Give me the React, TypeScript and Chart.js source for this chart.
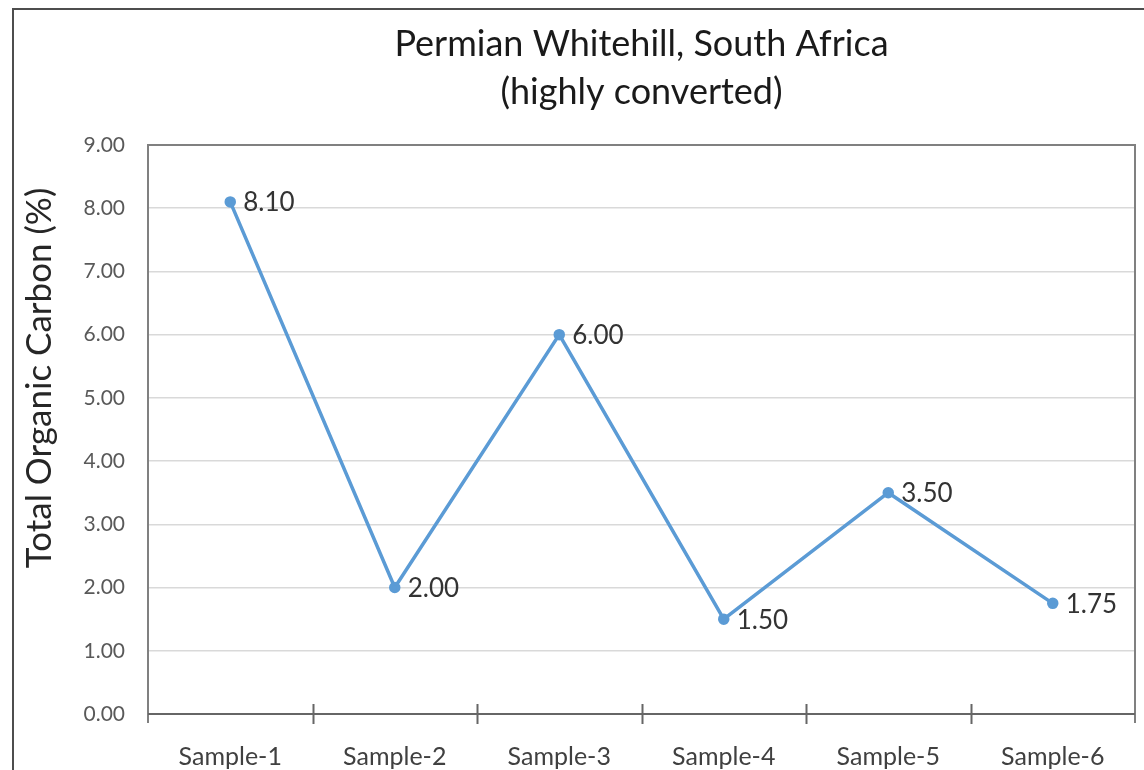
import React, { useEffect, useRef } from "react";
import { Chart, registerables } from "chart.js";

Chart.register(...registerables);

const categories = ["Sample-1", "Sample-2", "Sample-3", "Sample-4", "Sample-5", "Sample-6"];
const tocValues = [8.1, 2.0, 6.0, 1.5, 3.5, 1.75];
const titleLines = ["Permian Whitehill, South Africa", "(highly converted)"];
const yAxisTitle = "Total Organic Carbon (%)";
const yMin = 0;
const yMax = 9;
const yStep = 1;

const FONT = "Lato, 'Open Sans', sans-serif";
const LINE_COLOR = "#5B9BD5";

const framePlugin = {
  id: "framePlugin",
  beforeDraw(chart: any) {
    const ctx = chart.ctx;
    ctx.save();
    ctx.strokeStyle = "#4d4d4d";
    ctx.lineWidth = 2;
    ctx.beginPath();
    ctx.moveTo(13, chart.height);
    ctx.lineTo(13, 9);
    ctx.lineTo(chart.width, 9);
    ctx.stroke();
    ctx.restore();
  },
  afterDatasetsDraw(chart: any) {
    const { ctx, chartArea } = chart;
    const { left, right, top, bottom } = chartArea;
    ctx.save();
    ctx.strokeStyle = "#808080";
    ctx.lineWidth = 2;
    ctx.beginPath();
    ctx.moveTo(left, bottom + 9);
    ctx.lineTo(left, top);
    ctx.lineTo(right, top);
    ctx.lineTo(right, bottom + 9);
    ctx.stroke();
    ctx.strokeStyle = "#666666";
    ctx.beginPath();
    ctx.moveTo(left, bottom);
    ctx.lineTo(right, bottom);
    ctx.stroke();
    const n = categories.length;
    const step = (right - left) / n;
    ctx.beginPath();
    for (let i = 1; i < n; i++) {
      const x = Math.round(left + step * i) + 0.5;
      ctx.moveTo(x, bottom - 10);
      ctx.lineTo(x, bottom + 10);
    }
    ctx.stroke();

    // y-axis title, centred on the whole chart height as in the reference
    const yTitle = chart.options.scales.y.title;
    ctx.save();
    ctx.translate(40, 378);
    ctx.rotate(-Math.PI / 2);
    ctx.font = `35px ${FONT}`;
    ctx.fillStyle = "#262626";
    ctx.textAlign = "center";
    ctx.textBaseline = "middle";
    ctx.fillText(yTitle.text, 0, 0);
    ctx.restore();
    ctx.restore();
  },
};

const dataLabelPlugin = {
  id: "dataLabelPlugin",
  afterDatasetsDraw(chart: any) {
    const ctx = chart.ctx;
    const meta = chart.getDatasetMeta(0);
    const data = chart.data.datasets[0].data as number[];
    ctx.save();
    ctx.font = `26px ${FONT}`;
    ctx.fillStyle = "#333333";
    ctx.textAlign = "left";
    ctx.textBaseline = "middle";
    meta.data.forEach((pt: any, i: number) => {
      ctx.fillText(data[i].toFixed(2), pt.x + 13, pt.y + 1);
    });
    ctx.restore();
  },
};

export default function App() {
  const canvasRef = useRef<HTMLCanvasElement | null>(null);

  useEffect(() => {
    if (!canvasRef.current) return;
    const chart = new Chart(canvasRef.current, {
      type: "line",
      data: {
        labels: categories,
        datasets: [
          {
            data: tocValues,
            borderColor: LINE_COLOR,
            backgroundColor: LINE_COLOR,
            borderWidth: 3.5,
            pointRadius: 4,
            pointBackgroundColor: LINE_COLOR,
            pointBorderColor: LINE_COLOR,
            tension: 0,
            fill: false,
          },
        ],
      },
      options: {
        responsive: false,
        animation: false,
        layout: { padding: { left: 0, right: 9, top: 0, bottom: 0 } },
        plugins: {
          legend: { display: false },
          tooltip: { enabled: false },
          title: {
            display: true,
            fullSize: false,
            text: titleLines,
            color: "#1a1a1a",
            font: { family: FONT, size: 36, weight: "normal", lineHeight: 1.333 },
            padding: { top: 20, bottom: 29 },
          },
        },
        scales: {
          x: {
            type: "category",
            offset: true,
            grid: { display: false, offset: true },
            border: { display: false },
            ticks: {
              color: "#404040",
              font: { family: FONT, size: 25 },
              padding: 20,
              maxRotation: 0,
            },
            afterFit(scale: any) {
              scale.height = 56;
            },
          },
          y: {
            min: yMin,
            max: yMax,
            grid: { color: "#D9D9D9", lineWidth: 1.5, drawTicks: false },
            border: { display: false },
            ticks: {
              stepSize: yStep,
              color: "#595959",
              font: { family: FONT, size: 21 },
              padding: 23,
              callback: (v: any) => Number(v).toFixed(2),
            },
            title: {
              display: false,
              text: yAxisTitle,
            },
            afterFit(scale: any) {
              scale.width = 148;
            },
          },
        },
      },
      plugins: [framePlugin, dataLabelPlugin],
    });
    return () => chart.destroy();
  }, []);

  return (
    <div style={{ position: "fixed", left: 0, top: 0, width: 1144, height: 770, background: "#fff" }}>
      <canvas ref={canvasRef} width={1144} height={770} style={{ display: "block" }} />
    </div>
  );
}
